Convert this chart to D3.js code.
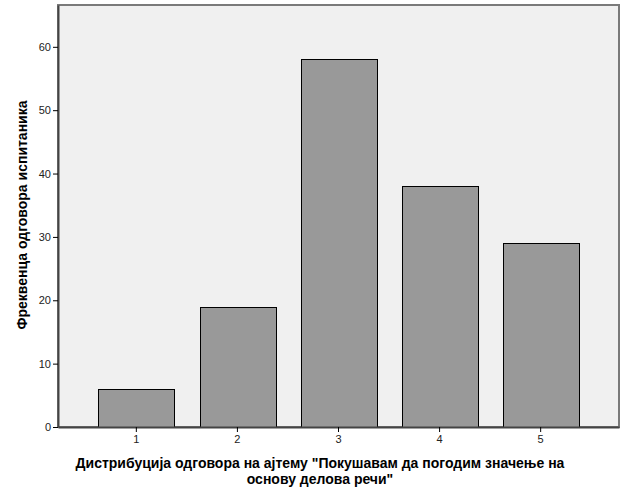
<!DOCTYPE html>
<html>
<head>
<meta charset="utf-8">
<script src="https://cdn.jsdelivr.net/npm/d3@7"></script>
<style>
  body { margin: 0; background: #fff; }
  text { font-family: "Liberation Sans", Arial, sans-serif; }
</style>
</head>
<body>
<div id="chart"></div>
<script>
// chart data
const categories = ["1", "2", "3", "4", "5"];
const counts = [6, 19, 58, 38, 29];
const yTicks = [0, 10, 20, 30, 40, 50, 60];
const xTitleLines = ["Дистрибуција одговора на ајтему \"Покушавам да погодим значење на", "основу делова речи\""];
const yTitle = "Фреквенца одговора испитаника";

const width = 626;
const height = 501;
const margin = { left: 58, top: 5, right: 7, bottom: 74 };

const svg = d3.select("#chart")
    .append("svg")
    .attr("width", width)
    .attr("height", height);

const x = d3.scaleBand()
    .domain(categories)
    .range([margin.left, width - margin.right])
    .paddingInner(0.25)
    .paddingOuter(0.4);

const y = d3.scaleLinear()
    .domain([0, 66.6])
    .range([height - margin.bottom, margin.top]);

// plot background
svg.append("rect")
    .attr("x", margin.left)
    .attr("y", margin.top)
    .attr("width", width - margin.left - margin.right)
    .attr("height", height - margin.top - margin.bottom)
    .attr("fill", "#f0f0f0")
    .attr("stroke", "#7a7a7a")
    .attr("stroke-width", 2);

// bars
svg.append("g")
    .selectAll("rect")
    .data(counts)
    .join("rect")
    .attr("x", (d, i) => Math.round(x(categories[i])) + 0.5)
    .attr("y", d => Math.round(y(d)) + 0.5)
    .attr("width", Math.round(x.bandwidth()))
    .attr("height", d => Math.round(y(0)) - Math.round(y(d)))
    .attr("fill", "#999999")
    .attr("stroke", "#000")
    .attr("stroke-width", 1);

// y axis
const yAxis = svg.append("g")
    .attr("transform", `translate(${margin.left},0)`)
    .call(d3.axisLeft(y).tickValues(yTicks).tickSize(5).tickPadding(2).tickSizeOuter(0));
yAxis.select(".domain").attr("stroke", "#444").attr("stroke-width", 2);
yAxis.selectAll(".tick line").attr("stroke", "#000");
yAxis.selectAll(".tick text")
    .attr("font-size", "11px")
    .attr("fill", "#222")
    .style("font-family", "'Liberation Sans', Arial, sans-serif");

// x axis
const xAxis = svg.append("g")
    .attr("transform", `translate(0,${height - margin.bottom})`)
    .call(d3.axisBottom(x).tickSize(5).tickPadding(3).tickSizeOuter(0));
xAxis.select(".domain").attr("stroke", "#444").attr("stroke-width", 2);
xAxis.selectAll(".tick line").attr("stroke", "#000");
xAxis.selectAll(".tick text")
    .attr("font-size", "11px")
    .attr("fill", "#222")
    .style("font-family", "'Liberation Sans', Arial, sans-serif");

// axis titles, one text per line
svg.append("g")
    .selectAll("text")
    .data(xTitleLines)
    .join("text")
    .attr("text-anchor", "middle")
    .attr("font-size", "14px")
    .attr("font-weight", "bold")
    .attr("x", 320)
    .attr("y", (d, i) => 468 + i * 15.5)
    .text(d => d);

svg.append("text")
    .attr("transform", "translate(27,215) rotate(-90)")
    .attr("text-anchor", "middle")
    .attr("font-size", "14px")
    .attr("font-weight", "bold")
    .text(yTitle);
</script>
</body>
</html>
